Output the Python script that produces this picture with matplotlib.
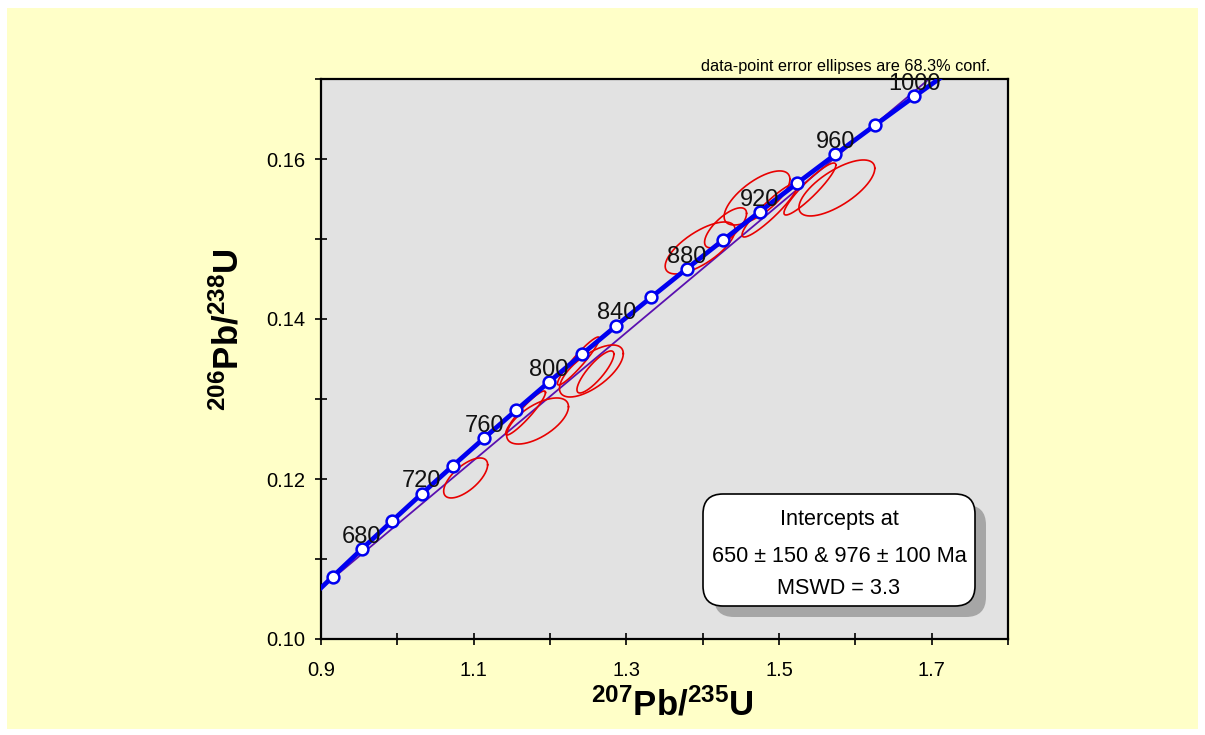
import numpy as np
import matplotlib
matplotlib.use("Agg")
import matplotlib.pyplot as plt
from matplotlib.patches import FancyBboxPatch, Rectangle

plt.rcParams['font.family'] = ['Liberation Sans', 'DejaVu Sans']
plt.rcParams['mathtext.fontset'] = 'custom'
plt.rcParams['mathtext.rm'] = 'Liberation Sans'
plt.rcParams['mathtext.bf'] = 'Liberation Sans:bold'
plt.rcParams['mathtext.it'] = 'Liberation Sans:italic'

# ---- Concordia curve (ages in Ma, ratios) ----
conc_age = [640, 660, 680, 700, 720, 740, 760, 780, 800, 820, 840, 860,
            880, 900, 920, 940, 960, 980, 1000, 1020]
conc_x = [0.8782, 0.9155, 0.9536, 0.9925, 1.0322, 1.0726, 1.1138, 1.1559,
          1.1987, 1.2425, 1.2871, 1.3326, 1.3790, 1.4263, 1.4746, 1.5238,
          1.5740, 1.6252, 1.6774, 1.7307]
conc_y = [0.10438, 0.10781, 0.11125, 0.11470, 0.11817, 0.12164, 0.12512,
          0.12862, 0.13213, 0.13564, 0.13918, 0.14272, 0.14627, 0.14983,
          0.15340, 0.15698, 0.16058, 0.16419, 0.16782, 0.17144]
marker_ages = list(range(660, 1001, 20))
label_ages = [680, 720, 760, 800, 840, 880, 920, 960, 1000]

# ---- Discordia (intercepts) ----
int_age = [650, 976]
int_x = [0.8968, 1.6149]
int_y = [0.10609, 0.16347]

# ---- Data-point error ellipses (center, half-extents, correlation) ----
ell_x = [1.0895, 1.1837, 1.1680, 1.2373, 1.2542, 1.2595, 1.3967, 1.4300,
         1.4712, 1.4882, 1.5405, 1.5758]
ell_y = [0.12013, 0.12725, 0.12825, 0.13475, 0.13350, 0.13338, 0.14888,
         0.15140, 0.15513, 0.15363, 0.15625, 0.15638]
ell_sx = [0.0288, 0.0405, 0.0261, 0.0275, 0.0418, 0.0242, 0.0458, 0.0275,
          0.0431, 0.0366, 0.0340, 0.0497]
ell_sy = [0.00250, 0.00288, 0.00275, 0.00300, 0.00325, 0.00263, 0.00325,
          0.00250, 0.00338, 0.00338, 0.00325, 0.00350]
ell_rho = [0.66, 0.62, 0.93, 0.94, 0.67, 0.84, 0.70, 0.72, 0.69,
           0.92, 0.92, 0.70]

result_lines = ["Intercepts at", "650 \u00b1 150 & 976 \u00b1 100 Ma", "MSWD = 3.3"]
note = "data-point error ellipses are 68.3% conf."

# ---------------------------------------------------------------
W, H = 1205, 735
fig = plt.figure(figsize=(W / 100, H / 100), dpi=100, facecolor='white')
fig.patches.append(Rectangle((7 / W, 6 / H), (1198 - 7) / W, (727 - 6) / H,
                             transform=fig.transFigure, facecolor='#FFFFC8',
                             edgecolor='none', zorder=-10))

ax = fig.add_axes([321 / W, 1 - 639 / H, (1008 - 321) / W, (639 - 79) / H])
ax.set_facecolor('#E2E2E2')
ax.set_xlim(0.9, 1.8)
ax.set_ylim(0.10, 0.17)

# ellipses
t = np.linspace(0, 2 * np.pi, 300)
for cx, cy, sx, sy, r in zip(ell_x, ell_y, ell_sx, ell_sy, ell_rho):
    ex = cx + sx * np.cos(t)
    ey = cy + sy * (r * np.cos(t) + np.sqrt(1 - r * r) * np.sin(t))
    ax.plot(ex, ey, color='#E80000', lw=1.2, zorder=3)

# discordia
ax.axline((int_x[0], int_y[0]), (int_x[1], int_y[1]), color='#5A10B0', lw=1.3, zorder=2)

# concordia
ax.plot(conc_x, conc_y, color='#0000F0', lw=3.4, zorder=4, solid_capstyle='butt')
mx = [conc_x[conc_age.index(a)] for a in marker_ages]
my = [conc_y[conc_age.index(a)] for a in marker_ages]
ax.plot(mx, my, linestyle='none', marker='o', markersize=8.5,
        markerfacecolor='white', markeredgecolor='#0000F0', markeredgewidth=1.8, zorder=5)
for a in label_ages:
    i = conc_age.index(a)
    ax.annotate(str(a), (conc_x[i], conc_y[i]), xytext=(0, 4.5), textcoords='offset points',
                ha='center', va='baseline', fontsize=17, color='#111111', zorder=6,
                annotation_clip=False)

# ticks
ax.set_xticks([0.9, 1.1, 1.3, 1.5, 1.7], labels=['0.9', '1.1', '1.3', '1.5', '1.7'])
ax.set_xticks(np.arange(0.9, 1.801, 0.1), minor=True)
ax.set_yticks([0.10, 0.12, 0.14, 0.16], labels=['0.10', '0.12', '0.14', '0.16'])
ax.set_yticks(np.arange(0.10, 0.1701, 0.01), minor=True)
ax.tick_params(which='both', direction='inout', length=8, width=1.2, colors='black',
               labelsize=14.5)
ax.tick_params(axis='x', which='major', pad=12)
ax.tick_params(axis='y', which='major', pad=7)
for s in ax.spines.values():
    s.set_linewidth(1.6)
    s.set_color('black')

# axis labels
fig.text(672 / W, 1 - 705 / H, r'$^{\mathbf{207}}\mathbf{Pb/}^{\mathbf{235}}\mathbf{U}$',
         ha='center', va='center', fontsize=25)
fig.text(228 / W, 1 - 330 / H, r'$^{\mathbf{206}}\mathbf{Pb/}^{\mathbf{238}}\mathbf{U}$',
         ha='center', va='center', fontsize=25, rotation=90)

# note
fig.text(990 / W, 1 - 67 / H, note, ha='right', va='center', fontsize=11.7)

# result box with shadow (in inches)
bx0, by0, bw, bh = 7.03, (735 - 606) / 100, 2.72, 1.12
shadow = FancyBboxPatch((bx0 + 0.11, by0 - 0.11), bw, bh,
                        boxstyle='round,pad=0,rounding_size=0.2',
                        transform=fig.dpi_scale_trans, facecolor='#A6A6A6',
                        edgecolor='none', zorder=7)
box = FancyBboxPatch((bx0, by0), bw, bh, boxstyle='round,pad=0,rounding_size=0.2',
                     transform=fig.dpi_scale_trans, facecolor='white',
                     edgecolor='black', lw=1.2, zorder=8)
fig.patches.extend([shadow, box])
for txt, py in zip(result_lines, [520, 556, 588]):
    fig.text(839 / W, 1 - py / H, txt, ha='center', va='center', fontsize=15.6, zorder=9)

fig.savefig('out.png', dpi=100, facecolor=fig.get_facecolor())
